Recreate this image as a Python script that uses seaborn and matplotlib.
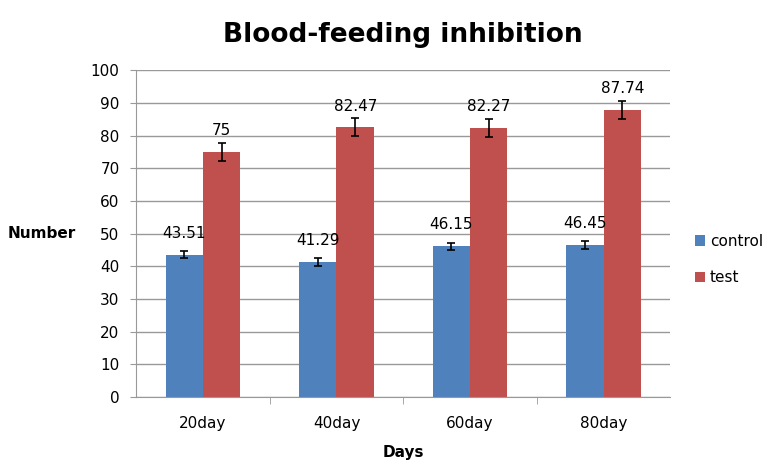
import pandas as pd
import numpy as np
import seaborn as sns
import matplotlib.pyplot as plt

# 数据
days = ['20day', '40day', '60day', '80day']
control = [43.51, 41.29, 46.15, 46.45]
test = [75, 82.47, 82.27, 87.74]
control_err = [1.1, 1.2, 1.1, 1.2]
test_err = [2.7, 2.75, 2.75, 2.75]

data = pd.DataFrame({
    'Days': days * 2,
    'Number': control + test,
    'group': ['control'] * 4 + ['test'] * 4,
})
errs = {'control': control_err, 'test': test_err}
vals = {'control': control, 'test': test}

sns.set_style('white')
plt.rcParams['font.family'] = ['DejaVu Sans']
plt.rcParams['text.color'] = 'black'
plt.rcParams['xtick.color'] = 'black'
plt.rcParams['ytick.color'] = 'black'
plt.rcParams['axes.labelcolor'] = 'black'

fig = plt.figure(figsize=(7.74, 4.63), dpi=100)
ax = fig.add_axes([0.176, 0.1425, 0.69, 0.706])

sns.barplot(data=data, x='Days', y='Number', hue='group', errorbar=None,
            palette={'control': '#4F81BD', 'test': '#C0504D'},
            width=0.56, saturation=1, linewidth=0, ax=ax)

# 误差线和数据标签
for cont, g in zip(ax.containers, ['control', 'test']):
    for bar, v, e in zip(cont, vals[g], errs[g]):
        xc = bar.get_x() + bar.get_width() / 2
        ax.errorbar(xc, v, yerr=e, fmt='none', ecolor='black',
                    elinewidth=1.2, capsize=3, capthick=1.2, zorder=3)
        ax.annotate(f'{v:g}', (xc, v), xytext=(0, 10), textcoords='offset points',
                    ha='center', va='bottom', fontsize=11)

ax.set_ylim(0, 100)
ax.set_xlim(-0.5, 3.5)
ax.set_yticks(range(0, 101, 10))
ax.yaxis.grid(True, color='#999999', linewidth=1)
ax.set_axisbelow(True)
for s in ['top', 'right']:
    ax.spines[s].set_visible(False)
ax.spines['left'].set_color('#999999')
ax.spines['bottom'].set_color('#999999')
ax.tick_params(axis='y', left=True, length=4, color='#999999', labelsize=11, pad=8)
ax.tick_params(axis='x', bottom=False, labelsize=11, pad=10)
ax.set_xticks([0.5, 1.5, 2.5], minor=True)
ax.tick_params(axis='x', which='minor', bottom=True, length=5, color='#999999')

ax.set_xlabel('Days', fontsize=11, fontweight='bold', labelpad=10)
ax.set_ylabel('Number', fontsize=11, fontweight='bold', rotation=0, labelpad=35, va='center')
ax.set_title('Blood-feeding inhibition', fontsize=19, fontweight='bold', pad=20)

ax.legend(loc='center left', bbox_to_anchor=(1.02, 0.42), frameon=False,
          fontsize=11, handlelength=0.7, handleheight=0.7, handletextpad=0.3,
          labelspacing=1.4)

plt.savefig('out.png', dpi=100)
